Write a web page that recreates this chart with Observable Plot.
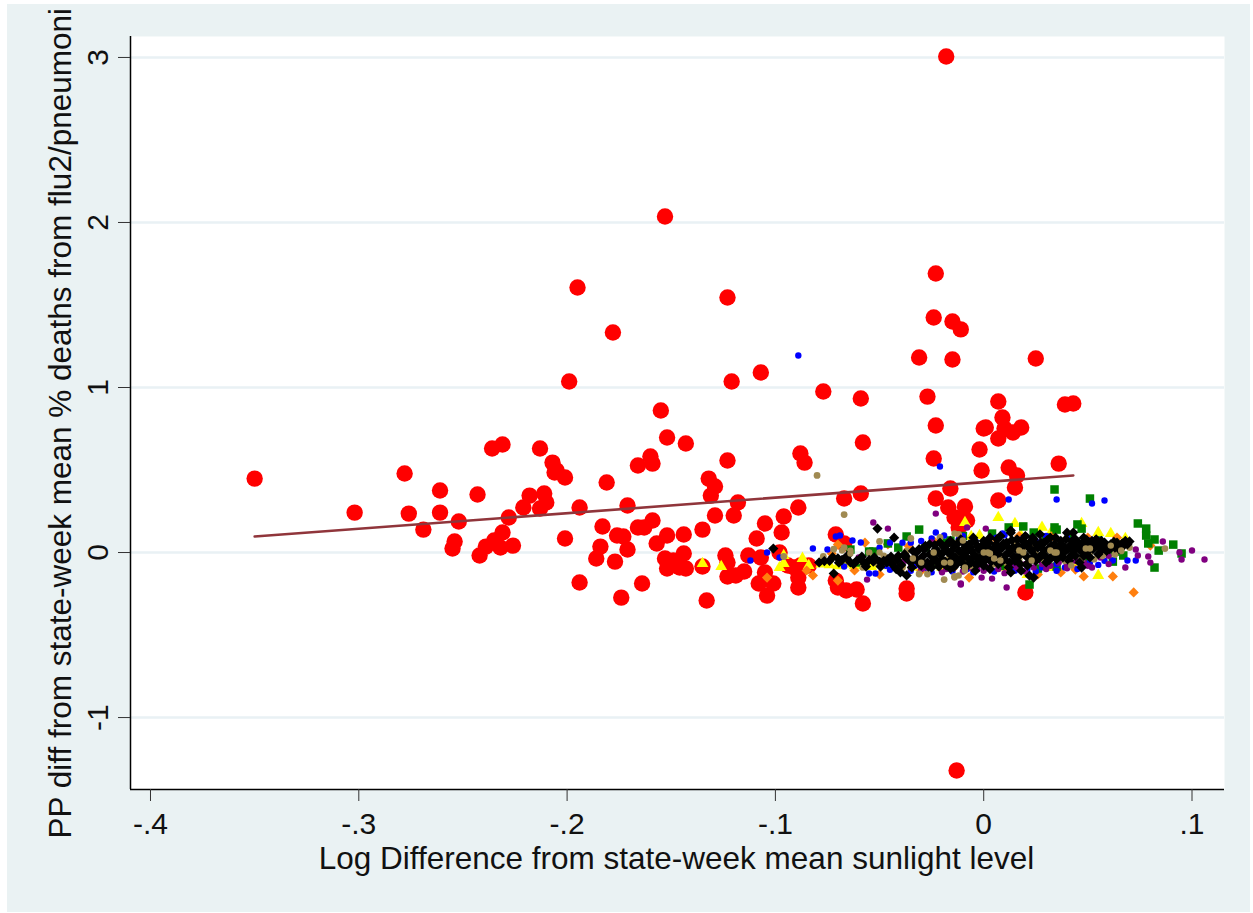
<!DOCTYPE html>
<html><head><meta charset="utf-8">
<script src="https://cdn.jsdelivr.net/npm/d3@7"></script>
<script src="https://cdn.jsdelivr.net/npm/@observablehq/plot@0.6"></script>
<style>
html,body{margin:0;padding:0;background:#fff;width:1253px;height:913px;overflow:hidden}
#bg{position:absolute;left:7px;top:4px;width:1243px;height:908px;background:#eaf2f3;overflow:hidden}
#bg svg{position:absolute;left:-7px;top:-4px;background:transparent;max-width:none !important;width:1253px;height:913px}
</style></head><body><div id="bg"></div>
<script>
const xTitle = "Log Difference from state-week mean sunlight level";
const yTitle = "PP diff from state-week mean % deaths from flu2/pneumoni";
const xTicks = [-.4,-.3,-.2,-.1,0,.1];
const xTickLabels = ["-.4","-.3","-.2","-.1","0",".1"];
const yTicks = [-1,0,1,2,3];
const yTickLabels = ["-1","0","1","2","3"];
const fitLine = [[-.350,.097],[.043,.467]];
const red = [[-.350,.448],[-.302,.242],[-.278,.479],[-.276,.236],[-.269,.139],[-.261,.376],[-.261,.242],[-.255,.024],[-.254,.067],[-.252,.188],[-.243,.352],[-.242,-.018],[-.239,.036],[-.236,.630],[-.235,.073],[-.232,.030],[-.231,.121],[-.231,.655],[-.228,.212],[-.226,.042],[-.221,.273],[-.218,.345],[-.213,.630],[-.213,.267],[-.211,.358],[-.210,.303],[-.207,.545],[-.206,.485],[-.205,.497],[-.201,.455],[-.201,.085],[-.199,1.036],[-.195,1.606],[-.194,.273],[-.194,-.182],[-.186,-.036],[-.184,.036],[-.183,.158],[-.181,.424],[-.178,1.333],[-.177,-.055],[-.176,.103],[-.174,-.273],[-.173,.097],[-.171,.285],[-.171,.018],[-.166,.152],[-.166,.527],[-.164,-.188],[-.163,.152],[-.160,.582],[-.159,.539],[-.159,.194],[-.157,.055],[-.153,2.036],[-.155,.861],[-.152,.103],[-.153,-.036],[-.152,.697],[-.152,-.097],[-.149,-.048],[-.146,-.091],[-.144,-.006],[-.144,.109],[-.143,.661],[-.143,-.097],[-.135,.139],[-.135,-.085],[-.133,-.291],[-.132,.448],[-.131,.345],[-.129,.400],[-.129,.224],[-.124,-.018],[-.123,-.061],[-.123,1.545],[-.123,.558],[-.123,-.145],[-.120,.224],[-.118,.303],[-.119,-.139],[-.121,1.036],[-.115,-.115],[-.113,-.018],[-.109,.085],[-.108,-.188],[-.107,-.030],[-.107,1.091],[-.105,.176],[-.105,-.121],[-.104,-.261],[-.101,-.188],[-.098,0],[-.097,.121],[-.096,.218],[-.094,-.079],[-.091,-.091],[-.089,.273],[-.089,-.212],[-.089,-.097],[-.089,-.152],[-.088,.600],[-.086,.545],[-.088,-.079],[-.084,-.079],[-.077,.976],[-.071,-.170],[-.071,.109],[-.070,-.212],[-.067,.055],[-.067,.327],[-.066,-.230],[-.061,-.224],[-.059,.933],[-.059,.358],[-.058,.667],[-.058,-.309],[-.037,-.218],[-.037,-.248],[-.031,1.182],[-.027,.945],[-.024,1.424],[-.023,1.691],[-.023,.770],[-.024,.570],[-.023,.327],[-.018,3.006],[-.016,.388],[-.017,.273],[-.015,1.400],[-.015,1.170],[-.013,-1.321],[-.014,.212],[-.012,.152],[-.011,.194],[-.011,1.352],[-.009,.279],[-.008,.194],[-.002,.624],[-.001,.497],[0,.752],[.001,.758],[.007,.691],[.007,.315],[.007,.915],[.009,.818],[.010,.752],[.012,.515],[.014,.727],[.015,.394],[.016,.467],[.018,.758],[.020,-.242],[.025,1.176],[.036,.539],[.039,.897],[.043,.903]];
const yellow = [[-.135,-.067],[-.126,-.085],[-.096,-.018],[-.096,-.067],[-.098,-.091],[-.087,-.036],[-.084,-.079],[-.078,-.07],[-.074,-.075],[-.070,-.08],[-.066,-.07],[-.062,-.08],[-.058,-.075],[-.054,-.085],[-.050,-.07],[-.046,-.08],[-.040,-.07],[-.034,-.09],[-.028,-.08],[-.020,-.09],[-.012,.07],[-.009,.182],[-.006,.097],[-.002,.103],[.007,.212],[.015,.176],[.021,-.133],[.028,.152],[.031,-.091],[.032,.115],[.040,.09],[.047,.176],[.055,.121],[.055,-.139],[.059,-.006],[.061,.115],[.068,.085],[.010,-.09],[.018,.10],[.044,-.07]];
const orange = [[-.104,-.152],[-.085,-.109],[-.082,-.139],[-.073,-.006],[-.070,-.170],[-.070,.048],[-.062,-.109],[-.057,.06],[-.050,-.133],[-.046,.05],[-.040,-.10],[-.036,.04],[-.030,-.11],[-.024,.07],[-.015,-.10],[-.010,.09],[-.007,-.152],[.006,.08],[.011,-.097],[.017,.10],[.026,-.133],[.037,-.121],[.044,-.103],[.048,-.145],[.050,.09],[.062,-.145],[.064,.091],[.072,-.242],[.080,.042],[.033,.10]];
const green = [[-.064,.018],[-.055,.006],[-.053,.006],[-.046,.055],[-.041,.03],[-.037,.097],[-.031,.139],[-.028,.03],[-.023,-.07],[-.018,.06],[-.016,.073],[-.010,.10],[-.004,-.08],[.004,.115],[.012,.152],[.019,.158],[.022,-.194],[.024,.121],[.026,-.097],[.030,.09],[.034,.382],[.034,.152],[.035,.139],[.035,-.085],[.041,.10],[.045,.170],[.047,.145],[.051,.327],[.055,.073],[.060,.04],[.062,-.055],[.063,.006],[.067,-.018],[.074,.176],[.078,.145],[.078,.103],[.079,.055],[.082,.079],[.082,-.091],[.084,.012],[.091,.048],[.095,-.006],[-.060,-.06],[.008,-.08],[.050,-.06]];
const blue = [[-.112,-.048],[-.104,0],[-.098,-.03],[-.089,1.194],[-.082,.024],[-.075,.018],[-.071,.097],[-.069,.103],[-.067,-.085],[-.063,.073],[-.059,.061],[-.055,-.127],[-.052,-.127],[-.050,.03],[-.047,-.08],[-.043,-.09],[-.039,.06],[-.035,.06],[-.033,-.08],[-.030,.07],[-.027,-.10],[-.023,.121],[-.021,.521],[-.019,.103],[-.016,-.09],[-.012,.08],[-.008,-.10],[-.004,.07],[-.001,-.07],[.003,-.10],[.006,.09],[.009,.115],[.012,.321],[.014,-.08],[.018,.08],[.021,-.10],[.025,.07],[.028,-.09],[.031,.09],[.035,.321],[.035,-.07],[.039,-.09],[.043,.07],[.047,-.08],[.051,-.06],[.052,.297],[.054,.06],[.058,.315],[.058,-.05],[.062,-.048],[.066,.04],[.069,-.048],[.073,-.048],[-.045,-.105],[-.035,-.11],[-.025,-.12],[-.015,-.115],[-.005,-.12],[.005,-.115],[.015,-.11],[.025,-.115],[.035,-.11],[.045,-.10],[.055,-.075],[-.045,.06],[-.025,.085],[-.01,.1],[.01,.105],[.02,.1],[.03,.10],[.04,.09],[.05,.075]];
const purple = [[-.060,-.03],[-.056,-.164],[-.053,.182],[-.048,-.06],[-.046,.145],[-.042,-.09],[-.038,-.05],[-.035,-.091],[-.031,-.07],[-.028,-.09],[-.025,.061],[-.023,.236],[-.021,-.07],[-.018,-.10],[-.014,-.08],[-.011,-.194],[-.011,-.188],[-.008,.152],[-.006,-.09],[-.003,-.10],[-.001,-.152],[.001,.145],[.002,-.09],[.004,-.158],[.007,-.10],[.011,-.212],[.013,-.08],[.016,-.09],[.020,-.07],[.024,-.09],[.028,-.07],[.032,-.08],[.036,-.06],[.040,-.07],[.044,-.05],[.048,-.06],[.052,-.091],[.056,-.03],[.060,-.02],[.064,.03],[.068,-.091],[.073,.018],[.074,-.018],[.079,-.024],[.080,-.061],[.086,.067],[.094,0],[.095,-.042],[.100,.012],[.106,-.042],[-.03,-.10],[-.02,-.12],[-.01,-.115],[0,-.11],[.01,-.125],[.02,-.115],[.03,-.10],[.04,-.095],[.05,-.08],[.06,-.07]];
const tan = [[-.096,-.024],[-.080,.467],[-.077,-.024],[-.072,.02],[-.067,.230],[-.067,.03],[-.064,.01],[-.060,-.05],[-.058,-.09],[-.055,.00],[-.052,-.06],[-.050,.067],[-.048,-.02],[-.045,-.05],[-.042,-.04],[-.039,-.09],[-.037,.01],[-.035,.085],[-.033,-.03],[-.031,-.13],[-.029,-.06],[-.027,-.13],[-.025,-.01],[-.022,-.07],[-.021,.091],[-.019,-.164],[-.017,-.04],[-.015,-.07],[-.014,-.145],[-.012,-.02],[-.012,.11],[-.010,-.05],[-.008,.01],[-.006,-.08],[-.004,-.02],[-.002,.03],[-.001,-.06],[.001,.02],[.003,-.03],[.005,-.07],[.007,.04],[.009,-.02],[.011,-.06],[.013,.00],[.015,.05],[.017,-.04],[.019,.02],[.021,-.07],[.023,.03],[.025,-.01],[.027,.05],[.029,-.05],[.031,.02],[.033,-.02],[.035,.04],[.037,.00],[.039,-.05],[.041,.03],[.043,-.02],[.045,.02],[.047,-.04],[.049,.04],[.051,.00],[.053,-.04],[.055,.02],[.057,-.02],[.060,.03],[.063,-.01],[.066,.01],[.070,.03],[.087,.024]];
const black = [[-.101,.024],[-.079,-.06],[-.074,-.05],[-.072,-.127],[-.070,-.035],[-.068,-.045],[-.066,-.03],[-.064,-.06],[-.061,-.05],[-.059,-.04],[-.057,-.07],[-.055,-.045],[-.053,-.055],[-.051,.145],[-.050,-.055],[-.048,-.05],[-.046,-.04],[-.044,-.07],[-.043,.09],[-.042,-.10],[-.041,-.02],[-.040,-.12],[-.038,-.01],[-.037,-.139],[-.036,-.04],[-.035,-.06],[-.034,.01],[-.033,-.03],[-.032,-.05],[-.031,.02],[-.030,-.08],[-.029,-.02],[-.028,.04],[-.027,-.06],[-.026,-.01],[-.026,.05],[-.025,-.09],[-.024,-.03],[-.023,.02],[-.022,-.06],[-.021,.06],[-.021,-.01],[-.020,-.04],[-.019,.03],[-.018,-.08],[-.017,0],[-.016,.07],[-.016,-.05],[-.015,-.02],[-.014,.04],[-.013,-.07],[-.012,.01],[-.011,-.04],[-.011,.08],[-.010,-.01],[-.009,.03],[-.009,-.09],[-.008,-.03],[-.007,.05],[-.006,-.06],[-.006,.01],[-.005,.09],[-.004,-.02],[-.004,-.11],[-.003,.04],[-.002,-.05],[-.001,.01],[0,.07],[0,-.08],[.001,-.02],[.002,.03],[.003,-.10],[.003,.09],[.004,-.04],[.005,.01],[.006,.05],[.007,-.07],[.007,-.01],[.008,.10],[.009,.03],[.010,-.04],[.011,.06],[.012,-.09],[.012,0],[.013,.12],[.014,.03],[.015,-.05],[.016,.08],[.017,-.02],[.018,-.11],[.019,.04],[.020,.10],[.021,-.03],[.022,-.14],[.022,.06],[.023,.01],[.024,.08],[.025,-.05],[.026,.03],[.027,.11],[.028,-.01],[.029,.06],[.030,-.06],[.031,.02],[.032,.09],[.033,-.02],[.034,.05],[.035,-.04],[.036,.01],[.037,.07],[.038,-.03],[.039,.03],[.040,.12],[.041,-.05],[.042,.05],[.043,.01],[.044,-.02],[.044,.08],[.045,.04],[.046,-.06],[.047,.02],[.048,.09],[.048,-.02],[.049,.05],[.050,.01],[.051,-.03],[.052,.07],[.053,.03],[.054,.08],[.055,-.01],[.056,.04],[.057,.02],[.058,.06],[.059,.01],[.061,.05],[.063,.03],[.064,.06],[.065,.02],[.067,.04],[.068,.07],[.069,.05],[-.0765,-.052],[-.0725,-.028],[-.0695,-.062],[-.0655,-.02],[-.0625,-.07],[-.0585,-.025],[-.0565,-.085],[-.0525,-.03],[-.0495,-.085],[-.0465,-.06],[-.0445,-.025],[-.0415,-.045],[-.0395,-.075],[-.0375,-.03],[-.0345,-.09],[-.0325,0],[-.0305,-.045],[-.0285,.02],[-.0265,-.085],[-.0245,-.055],[-.0235,.045],[-.0215,-.085],[-.0195,0],[-.0185,-.055],[-.0175,.05],[-.0155,.01],[-.0145,-.09],[-.0135,-.03],[-.0125,.055],[-.0105,-.06],[-.0095,.055],[-.0085,.005],[-.0075,-.075],[-.0065,.03],[-.0055,-.035],[-.0045,.07],[-.0035,-.075],[-.0025,.02],[-.0015,-.03],[-.0005,.045],[.0005,-.05],[.0015,.005],[.0025,.06],[.0035,-.055],[.0045,.025],[.0055,-.02],[.0065,.08],[.0075,.015],[.0085,-.055],[.0095,.055],[.0105,-.015],[.0115,.035],[.0125,-.06],[.0135,.075],[.0145,-.025],[.0155,.02],[.0165,.04],[.0175,-.07],[.0185,.075],[.0195,-.01],[.0205,.05],[.0215,-.06],[.0225,.02],[.0235,.09],[.0245,-.02],[.0255,.045],[.0265,-.035],[.0275,.06],[.0285,.02],[.0295,-.02],[.0305,.075],[.0315,-.045],[.0325,.04],[.0335,.01],[.0345,.09],[.0355,.03],[.0365,-.02],[.0375,.045],[.0385,0],[.0395,.08],[.0405,.02],[.0415,-.025],[.0425,.07],[.0435,.03],[.0455,.06],[.0465,.01],[.0475,.055],[.0495,.075],[.0505,.035],[.0525,.02],[.0545,.045],[.0565,.07],[.0585,.035],[.0605,.02],[.0625,.065],[.0645,.04],[.0665,.055],[.013,-.121],[.024,-.152],[.021,-.079],[.047,-.091],[.043,.121],[.070,.067],[.013,.133],[-.016,-.097]];
const tanOver = [[-.014,.115],[-.010,.073],[0,0],[.002,0],[.003,-.006],[.017,.012],[.019,0],[.032,.012],[.034,0],[.035,0],[.049,.024],[.051,.024],[-.014,-.152],[-.012,-.139],[-.009,-.091],[-.009,-.109],[.005,-.036],[.008,-.048],[-.034,-.036],[-.030,-.061],[-.024,0],[-.019,-.061],[-.016,-.061],[-.050,0],[-.068,.012],[-.064,-.006],[.023,-.048],[.042,-.079],[.061,.042],[.066,.012]];

const xFmt = d => xTickLabels[xTicks.indexOf(d)];
const yFmt = d => yTickLabels[yTicks.indexOf(d)];
const pts = (a, o) => Plot.dot(a, {x: d => d[0], y: d => d[1], ...o});
const xDomain = [-.4096,.1156], yDomain = [-1.436,3.127];
const chart = Plot.plot({
  width:1253, height:913, marginLeft:130, marginRight:29, marginTop:36, marginBottom:124,
  style:{background:"transparent",fontFamily:"'Liberation Sans',Arial,sans-serif",color:"#111"},
  x:{domain:xDomain,label:null},
  y:{domain:yDomain,label:null},
  marks:[
    Plot.frame({fill:"white",stroke:"none"}),
    Plot.ruleY(yTicks,{stroke:"#e9f1f4",strokeWidth:2.5}),
    pts(red,{r:8.2,fill:"#ff0000"}),
    Plot.line(fitLine,{x:d=>d[0],y:d=>d[1],stroke:"#90353b",strokeWidth:2.6}),
    pts(yellow,{symbol:"triangle",r:4.4,fill:"#ffff00"}),
    pts(orange,{symbol:"diamond2",r:4.6,fill:"#ff7f0e"}),
    pts(green,{symbol:"square",r:4.8,fill:"#008000"}),
    pts(blue,{r:3.2,fill:"#0000ff"}),
    pts(purple,{r:3.2,fill:"#800080"}),
    pts(tan,{r:3.4,fill:"#a08a52"}),
    pts(black,{symbol:"diamond2",r:4.6,fill:"#000000"}),
    pts(tanOver,{r:3.2,fill:"#a08a52"}),
    Plot.ruleX([xDomain[0]],{stroke:"#000",strokeWidth:1.5}),
    Plot.ruleY([yDomain[0]],{stroke:"#000",strokeWidth:1.5}),
    Plot.axisX(xTicks,{tickSize:12,tickPadding:11,fontSize:30,tickFormat:xFmt,stroke:"#333",label:null,fill:"#111"}),
    Plot.axisY(yTicks,{tickSize:12,tickPadding:11,fontSize:30,tickRotate:-90,tickFormat:yFmt,stroke:"#333",label:null,fill:"#111"}),
    Plot.text([xTitle],{frameAnchor:"bottom",dx:-1,dy:69,fontSize:31.5,fill:"#111",lineAnchor:"middle"}),
    Plot.text([yTitle],{frameAnchor:"bottom-left",dx:-70,dy:49,rotate:-90,textAnchor:"start",lineAnchor:"middle",fontSize:31.5,fill:"#111"})
  ]
});
document.getElementById("bg").appendChild(chart);
</script></body></html>
